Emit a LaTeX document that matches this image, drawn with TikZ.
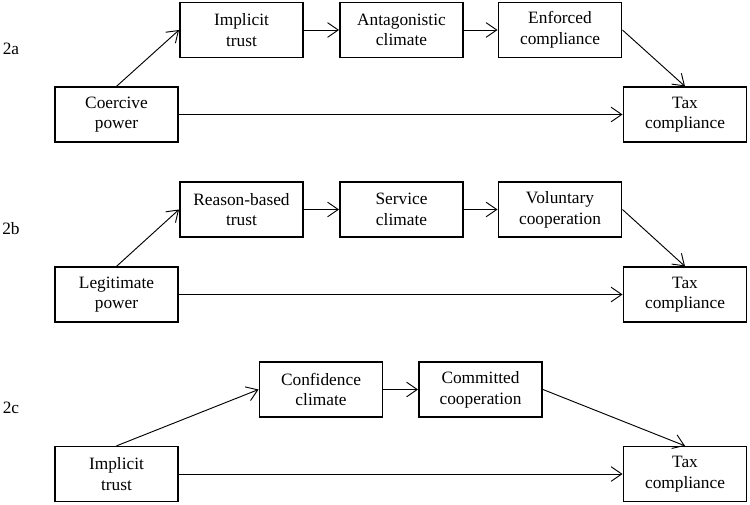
\documentclass[tikz,border=0pt]{standalone}
\usepackage{fontspec}
\setmainfont{Liberation Serif}
\usetikzlibrary{arrows.meta}
\begin{document}
\begin{tikzpicture}[x=0.75pt,y=-0.75pt,
  box/.style={draw,line width=1.2pt,minimum width=92.5pt,minimum height=41pt,
    inner sep=1pt,align=center,font=\fontsize{13}{15.5}\selectfont},
  lbl/.style={font=\fontsize{13}{15.5}\selectfont,inner sep=0pt},
  arr/.style={line width=0.7pt,-{Straight Barb[length=8pt,width=11pt,line width=0.7pt]}}]
\useasboundingbox (0,0) rectangle (750,504);
% 2a
\node[lbl] (la) at (11,49) {2a};
\node[box] (a1) at (241.5,30) {Implicit\\trust};
\node[box] (a2) at (401.5,30) {Antagonistic\\climate};
\node[box] (a3) at (560,30) {Enforced\\compliance};
\node[box] (a0) at (116.5,114.5) {Coercive\\power};
\node[box] (a4) at (685,114.5) {Tax\\compliance};
\draw[arr] (a0.north) -- (a1.west);
\draw[arr] (a1) -- (a2);
\draw[arr] (a2) -- (a3);
\draw[arr] (a3.east) -- (a4.north);
\draw[arr] (a0) -- (a4);
% 2b
\node[lbl] (lb) at (11,229) {2b};
\node[box] (b1) at (241.5,209.5) {Reason-based\\trust};
\node[box] (b2) at (401.5,209.5) {Service\\climate};
\node[box] (b3) at (560,209.5) {Voluntary\\cooperation};
\node[box] (b0) at (116.5,294.5) {Legitimate\\power};
\node[box] (b4) at (685,294.5) {Tax\\compliance};
\draw[arr] (b0.north) -- (b1.west);
\draw[arr] (b1) -- (b2);
\draw[arr] (b2) -- (b3);
\draw[arr] (b3.east) -- (b4.north);
\draw[arr] (b0) -- (b4);
% 2c
\node[lbl] (lc) at (11,408) {2c};
\node[box] (c1) at (321,389.5) {Confidence\\climate};
\node[box] (c2) at (480.5,389.5) {Committed\\cooperation};
\node[box] (c0) at (116.5,474) {Implicit\\trust};
\node[box] (c4) at (685,474) {Tax\\compliance};
\draw[arr] (c0.north) -- (c1.west);
\draw[arr] (c1) -- (c2);
\draw[arr] (c2.east) -- (c4.north);
\draw[arr] (c0) -- (c4);
\end{tikzpicture}
\end{document}
